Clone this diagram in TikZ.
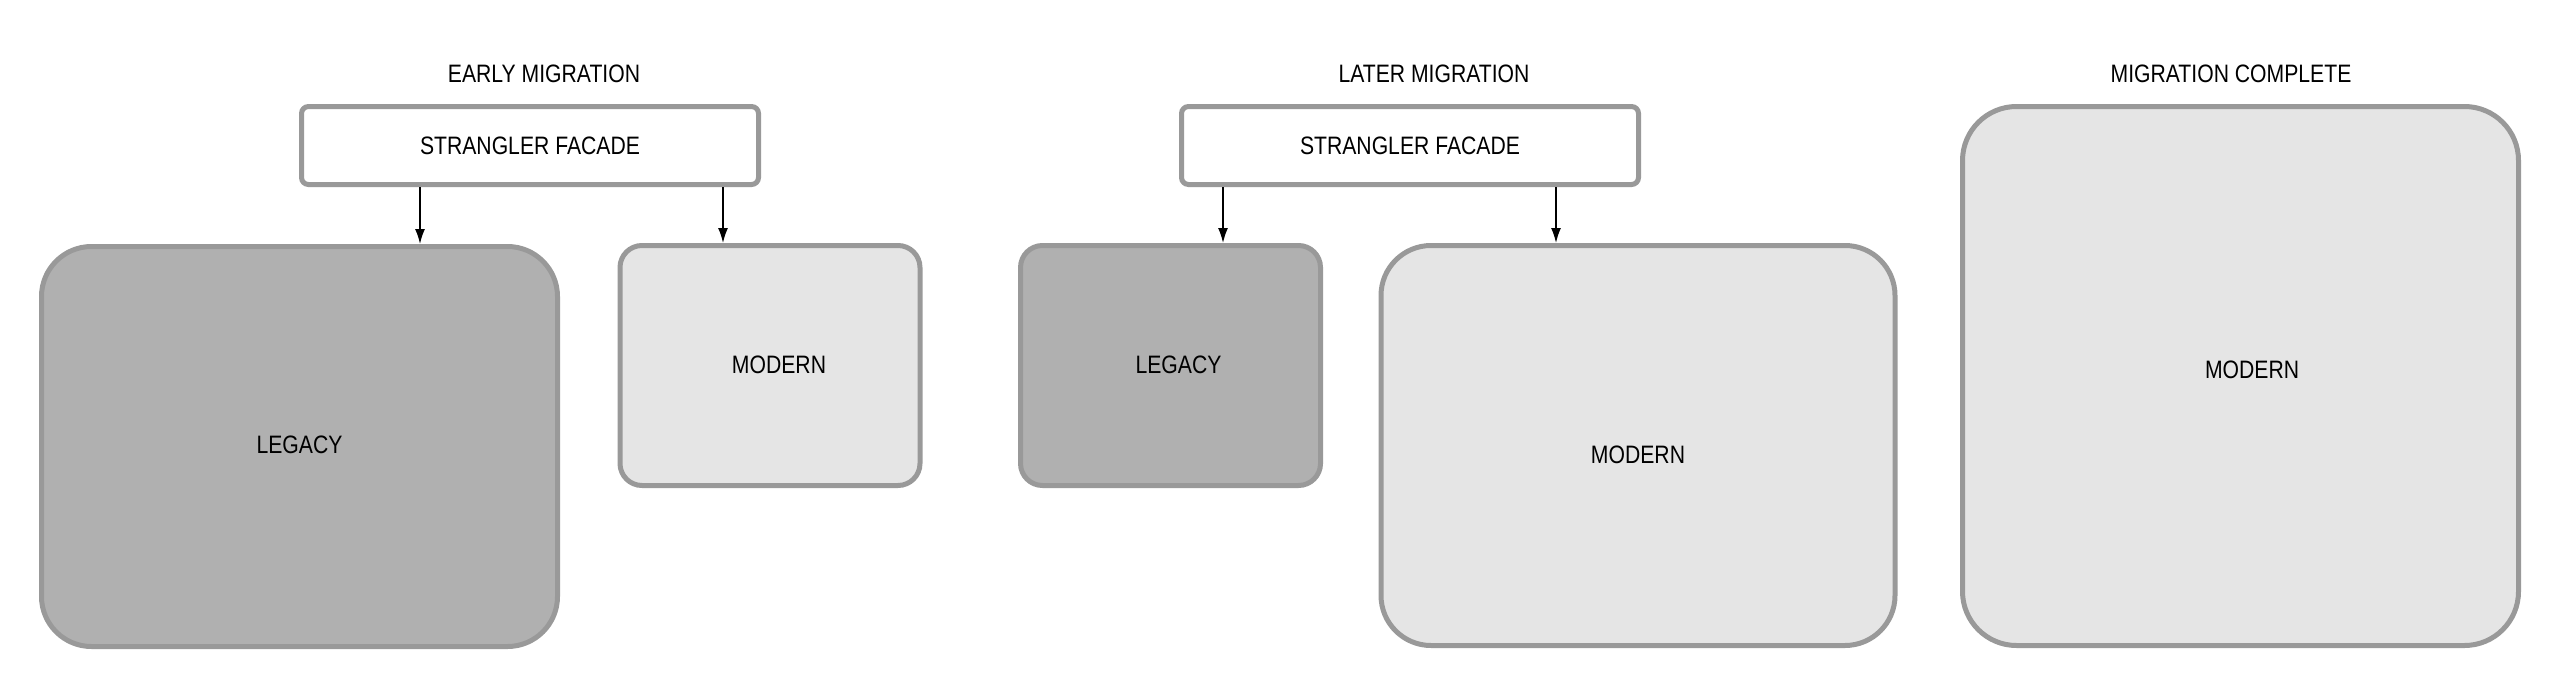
\documentclass[tikz,border=0pt]{standalone}
\usepackage{fontspec}
\setmainfont[FakeStretch=0.84]{Liberation Sans}
\usepackage{tikz}
\usetikzlibrary{arrows.meta,positioning,shadows}
\usepackage{xcolor}
\definecolor{edgegray}{HTML}{999999}
\definecolor{legacygray}{HTML}{B0B0B0}
\definecolor{moderngray}{HTML}{E5E5E5}

\begin{document}
\begin{tikzpicture}[x=0.5pt,y=-0.5pt,font=\fontsize{12.6pt}{15pt}\selectfont,
    box/.style={draw=edgegray,line width=2.5pt,rectangle,inner sep=0pt,
      drop shadow={shadow xshift=0pt,shadow yshift=-0.6pt,fill=edgegray,opacity=1}},
    facade/.style={box,fill=white,rounded corners=3.5pt,minimum width=228.5pt,minimum height=39pt},
    legacy/.style={box,fill=legacygray},
    modern/.style={box,fill=moderngray},
    small/.style={rounded corners=11pt,minimum width=150pt,minimum height=120pt},
    big/.style={rounded corners=25pt,minimum height=200pt},
    title/.style={inner sep=0pt},
    lbl/.style={inner sep=0pt},
    flow/.style={-{Latex[length=7.5pt,width=5pt]},line width=0.75pt,black}]
  \useasboundingbox (0,0) rectangle (2560,686);

  % early migration
  \node[title]                       (T1)  at (544,73.5)  {EARLY MIGRATION};
  \node[facade]                      (F1)  at (530,145.5) {STRANGLER FACADE};
  \node[legacy,big,minimum width=258pt,label={[lbl,yshift=0.7pt]center:LEGACY}]
                                     (L1)  at (299.5,446.5) {};
  \node[modern,small,label={[lbl,xshift=4.5pt,yshift=0.3pt]center:MODERN}]
                                     (M1)  at (770,365.5) {};

  % later migration
  \node[title]                       (T2)  at (1434,73.5) {LATER MIGRATION};
  \node[facade]                      (F2)  at (1410,145.5) {STRANGLER FACADE};
  \node[legacy,small,label={[lbl,xshift=4pt,yshift=0.3pt]center:LEGACY}]
                                     (L2)  at (1170.5,365.5) {};
  \node[modern,big,minimum width=257pt,label={[lbl,yshift=-4.8pt]center:MODERN}]
                                     (M2)  at (1638,445.5) {};

  % migration complete
  \node[title]                       (T3)  at (2231,73.5) {MIGRATION COMPLETE};
  \node[modern,rounded corners=27pt,minimum width=278pt,minimum height=269.5pt,
        label={[lbl,xshift=5.8pt,yshift=3pt]center:MODERN}]
                                     (M3)  at (2240.5,376) {};

  \coordinate (a1) at (420,0);
  \coordinate (a2) at (723,0);
  \coordinate (a3) at (1223,0);
  \coordinate (a4) at (1556,0);

  \path[flow]  (F1.south -| a1) edge (L1.north -| a1)
               (F1.south -| a2) edge (M1.north -| a2)
               (F2.south -| a3) edge (L2.north -| a3)
               (F2.south -| a4) edge (M2.north -| a4);
\end{tikzpicture}
\end{document}
